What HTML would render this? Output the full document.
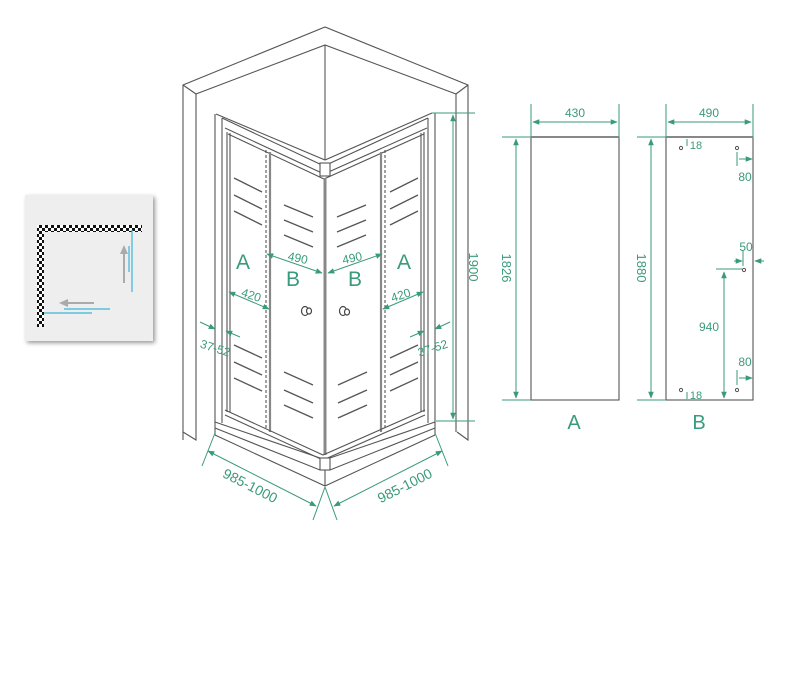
<!DOCTYPE html>
<html><head><meta charset="utf-8"><style>
html,body{margin:0;padding:0;background:#fff}
svg{display:block}
text{font-family:"Liberation Sans",sans-serif;fill:#3a9a7c}
</style></head><body>
<svg width="800" height="700" viewBox="0 0 800 700" xmlns="http://www.w3.org/2000/svg">
<defs>
<marker id="ar" viewBox="0 0 10 10" refX="9" refY="5" markerWidth="7" markerHeight="7" orient="auto-start-reverse"><path d="M0,1 L10,5 L0,9 z" fill="#3a9a7c"/></marker>
<pattern id="chk" width="6" height="6" patternUnits="userSpaceOnUse"><rect width="6" height="6" fill="#fff"/><rect width="3" height="3" fill="#111"/><rect x="3" y="3" width="3" height="3" fill="#111"/></pattern>
<filter id="sh"><feDropShadow dx="2" dy="2" stdDeviation="2" flood-color="#999"/></filter>
</defs>

<!-- Inset -->
<rect x="25" y="195" width="128" height="146" fill="#eeeeee" filter="url(#sh)"/>
<rect x="37" y="225" width="105" height="7" fill="url(#chk)"/>
<rect x="37" y="225" width="7" height="102" fill="url(#chk)"/>
<g stroke="#3cb4d8" stroke-width="1.2">
<line x1="132" y1="230" x2="132" y2="292"/><line x1="129" y1="246" x2="129" y2="272"/>
<line x1="44" y1="313" x2="92" y2="313"/><line x1="64" y1="309" x2="110" y2="309"/>
</g>
<g stroke="#aaa" stroke-width="2" fill="#aaa">
<line x1="124" y1="283" x2="124" y2="252"/><path d="M120,254 L124,245 L128,254z" stroke="none"/>
<line x1="94" y1="303" x2="66" y2="303"/><path d="M68,299 L59,303 L68,307z" stroke="none"/>
</g>

<!-- Walls -->
<g stroke="#555" stroke-width="1.1" fill="none">
<polyline points="183,440 183,85 325,27 468,85 468,440 457,432"/>
<polyline points="183,432 196,440 196,94 325,45 456,94 456,432"/>
<line x1="183" y1="85" x2="196" y2="94"/><line x1="468" y1="85" x2="456" y2="94"/>
<line x1="325" y1="45" x2="325" y2="160"/>

<!-- frame top rail -->
<polyline points="216,114 325,160 432,113"/>
<polyline points="222,118 324,166 428,118"/>
<polyline points="225,128 324,174 427,128"/>
<polyline points="228,134 324,179 424,134"/>
<rect x="320" y="163" width="10" height="13" fill="#fff"/>
<!-- posts -->
<line x1="215" y1="114" x2="215" y2="423"/><line x1="222" y1="118" x2="222" y2="423"/>
<line x1="227" y1="132" x2="227" y2="412"/><line x1="230" y1="133" x2="230" y2="412"/>
<line x1="435" y1="113" x2="435" y2="423"/><line x1="428" y1="118" x2="428" y2="423"/>
<line x1="424" y1="132" x2="424" y2="412"/><line x1="421" y1="133" x2="421" y2="412"/>
<!-- glass dividers -->
<line x1="266" y1="150" x2="266" y2="428" stroke-dasharray="3,2"/>
<line x1="270" y1="152" x2="270" y2="432" stroke-width="2.2" stroke="#888"/>
<line x1="385" y1="150" x2="385" y2="428" stroke-dasharray="3,2"/>
<line x1="381" y1="152" x2="381" y2="432" stroke-width="2.2" stroke="#888"/>
<line x1="325" y1="178" x2="325" y2="455" stroke-width="3" stroke="#888"/>
<!-- bottom -->
<polyline points="225,410 323,455 425,410"/>
<polyline points="225,415 323,460 425,415"/>
<polyline points="215,422 320,458 330,458 435,422"/>
<polyline points="215,428 320,470 330,470 435,428"/>
<polyline points="215,435 325,486 435,435"/>
<line x1="215" y1="422" x2="215" y2="435"/><line x1="435" y1="422" x2="435" y2="435"/>
<rect x="320" y="458" width="10" height="12" fill="#fff"/>
<line x1="325" y1="470" x2="325" y2="486"/>
</g>
<!-- hatch marks -->
<g stroke="#555" stroke-width="1.3">
<line x1="234" y1="178" x2="262" y2="192"/><line x1="234" y1="195" x2="262" y2="209"/><line x1="234" y1="211" x2="262" y2="225"/>
<line x1="284" y1="205" x2="313" y2="217"/><line x1="284" y1="220" x2="313" y2="232"/><line x1="284" y1="235" x2="313" y2="247"/>
<line x1="337" y1="217" x2="366" y2="205"/><line x1="337" y1="232" x2="366" y2="220"/><line x1="337" y1="247" x2="366" y2="235"/>
<line x1="390" y1="192" x2="418" y2="178"/><line x1="390" y1="209" x2="418" y2="195"/><line x1="390" y1="225" x2="418" y2="211"/>
<line x1="234" y1="345" x2="262" y2="358"/><line x1="234" y1="362" x2="262" y2="375"/><line x1="234" y1="378" x2="262" y2="391"/>
<line x1="284" y1="372" x2="313" y2="385"/><line x1="284" y1="390" x2="313" y2="403"/><line x1="284" y1="405" x2="313" y2="418"/>
<line x1="338" y1="385" x2="367" y2="372"/><line x1="338" y1="403" x2="367" y2="390"/><line x1="338" y1="418" x2="367" y2="405"/>
<line x1="390" y1="358" x2="418" y2="345"/><line x1="390" y1="375" x2="418" y2="362"/><line x1="390" y1="391" x2="418" y2="378"/>
</g>
<!-- handles -->
<g stroke="#444" fill="#fff" stroke-width="1.2"><ellipse cx="305" cy="311" rx="3.5" ry="4.5"/><ellipse cx="309" cy="311" rx="2.5" ry="3"/><ellipse cx="343" cy="311" rx="3.5" ry="4.5"/><ellipse cx="347" cy="312" rx="2.5" ry="3"/></g>

<!-- dims main -->
<g stroke="#3a9a7c" stroke-width="1" fill="none">
<line x1="432" y1="113" x2="475" y2="113"/><line x1="436" y1="421" x2="475" y2="421"/>
<line x1="453" y1="115" x2="453" y2="419" marker-start="url(#ar)" marker-end="url(#ar)"/>
<line x1="267" y1="254" x2="322" y2="273" marker-start="url(#ar)" marker-end="url(#ar)"/>
<line x1="328" y1="273" x2="382" y2="254" marker-start="url(#ar)" marker-end="url(#ar)"/>
<line x1="229" y1="292" x2="269" y2="309" marker-start="url(#ar)" marker-end="url(#ar)"/>
<line x1="383" y1="309" x2="423" y2="292" marker-start="url(#ar)" marker-end="url(#ar)"/>
<line x1="200" y1="322" x2="215" y2="329" marker-end="url(#ar)"/><line x1="240" y1="337" x2="226" y2="331" marker-end="url(#ar)"/>
<line x1="450" y1="322" x2="435" y2="329" marker-end="url(#ar)"/><line x1="410" y1="337" x2="424" y2="331" marker-end="url(#ar)"/>
<line x1="215" y1="433" x2="202" y2="466"/><line x1="325" y1="487" x2="313" y2="520"/><line x1="325" y1="487" x2="337" y2="520"/><line x1="435" y1="433" x2="448" y2="466"/>
<line x1="208" y1="451" x2="316" y2="506" marker-start="url(#ar)" marker-end="url(#ar)"/>
<line x1="334" y1="506" x2="442" y2="451" marker-start="url(#ar)" marker-end="url(#ar)"/>
</g>
<text x="469" y="267" font-size="13" transform="rotate(90 469 267)" text-anchor="middle">1900</text>
<text x="297" y="262" font-size="12" text-anchor="middle" transform="rotate(12 297 262)">490</text>
<text x="353" y="262" font-size="12" text-anchor="middle" transform="rotate(-12 353 262)">490</text>
<text x="250" y="299" font-size="12" text-anchor="middle" transform="rotate(18 250 299)">420</text>
<text x="402" y="299" font-size="12" text-anchor="middle" transform="rotate(-18 402 299)">420</text>
<text x="214" y="352" font-size="12" text-anchor="middle" transform="rotate(18 214 352)">37-52</text>
<text x="434" y="352" font-size="12" text-anchor="middle" transform="rotate(-18 434 352)">37-52</text>
<text x="248" y="490" font-size="14" text-anchor="middle" transform="rotate(27 248 490)">985-1000</text>
<text x="407" y="490" font-size="14" text-anchor="middle" transform="rotate(-27 407 490)">985-1000</text>
<text x="243" y="269" font-size="21" text-anchor="middle">A</text>
<text x="293" y="286" font-size="21" text-anchor="middle">B</text>
<text x="355" y="286" font-size="21" text-anchor="middle">B</text>
<text x="404" y="269" font-size="21" text-anchor="middle">A</text>

<!-- panel A -->
<rect x="531" y="137" width="88" height="263" fill="none" stroke="#555" stroke-width="1.1"/>
<line x1="531" y1="137" x2="619" y2="137" stroke="#888" stroke-width="2"/>
<g stroke="#3a9a7c" stroke-width="1" fill="none">
<line x1="531" y1="104" x2="531" y2="137"/><line x1="619" y1="104" x2="619" y2="137"/>
<line x1="533" y1="122" x2="617" y2="122" marker-start="url(#ar)" marker-end="url(#ar)"/>
<line x1="502" y1="137" x2="531" y2="137"/><line x1="502" y1="400" x2="531" y2="400"/>
<line x1="516" y1="139" x2="516" y2="398" marker-start="url(#ar)" marker-end="url(#ar)"/>
</g>
<text x="575" y="117" font-size="12" text-anchor="middle">430</text>
<text x="502" y="268" font-size="13" text-anchor="middle" transform="rotate(90 502 268)">1826</text>
<text x="574" y="429" font-size="20" text-anchor="middle" fill="#3a9a7c">A</text>

<!-- panel B -->
<rect x="666" y="137" width="87" height="263" fill="none" stroke="#555" stroke-width="1.1"/>
<line x1="666" y1="137" x2="753" y2="137" stroke="#888" stroke-width="2"/>
<g stroke="#555" fill="#fff" stroke-width="1"><circle cx="681" cy="148" r="1.6"/><circle cx="737" cy="148" r="1.6"/><circle cx="744" cy="270" r="1.6"/><circle cx="737" cy="390" r="1.6"/><circle cx="681" cy="390" r="1.6"/></g>
<g stroke="#3a9a7c" stroke-width="1" fill="none">
<line x1="666" y1="104" x2="666" y2="137"/><line x1="753" y1="104" x2="753" y2="137"/>
<line x1="668" y1="122" x2="751" y2="122" marker-start="url(#ar)" marker-end="url(#ar)"/>
<line x1="637" y1="137" x2="666" y2="137"/><line x1="637" y1="400" x2="666" y2="400"/>
<line x1="651" y1="139" x2="651" y2="398" marker-start="url(#ar)" marker-end="url(#ar)"/>
<line x1="687" y1="139" x2="687" y2="146"/><line x1="687" y1="392" x2="687" y2="399"/>
<line x1="737" y1="152" x2="737" y2="166"/><line x1="739" y1="159" x2="752" y2="159" marker-end="url(#ar)"/>
<line x1="716" y1="269" x2="742" y2="269"/>
<line x1="724" y1="272" x2="724" y2="398" marker-start="url(#ar)" marker-end="url(#ar)"/>
<line x1="734" y1="261" x2="742" y2="261" marker-end="url(#ar)"/><line x1="764" y1="261" x2="755" y2="261" marker-end="url(#ar)"/>
<line x1="743" y1="250" x2="743" y2="266"/>
<line x1="737" y1="370" x2="737" y2="385"/><line x1="739" y1="378" x2="752" y2="378" marker-end="url(#ar)"/>
</g>
<text x="709" y="117" font-size="12" text-anchor="middle">490</text>
<text x="637" y="268" font-size="13" text-anchor="middle" transform="rotate(90 637 268)">1880</text>
<text x="696" y="149" font-size="11" text-anchor="middle">18</text>
<text x="696" y="399" font-size="11" text-anchor="middle">18</text>
<text x="745" y="181" font-size="12" text-anchor="middle">80</text>
<text x="746" y="251" font-size="12" text-anchor="middle">50</text>
<text x="709" y="331" font-size="12" text-anchor="middle">940</text>
<text x="745" y="366" font-size="12" text-anchor="middle">80</text>
<text x="699" y="429" font-size="20" text-anchor="middle" fill="#3a9a7c">B</text>
</svg>
</body></html>
